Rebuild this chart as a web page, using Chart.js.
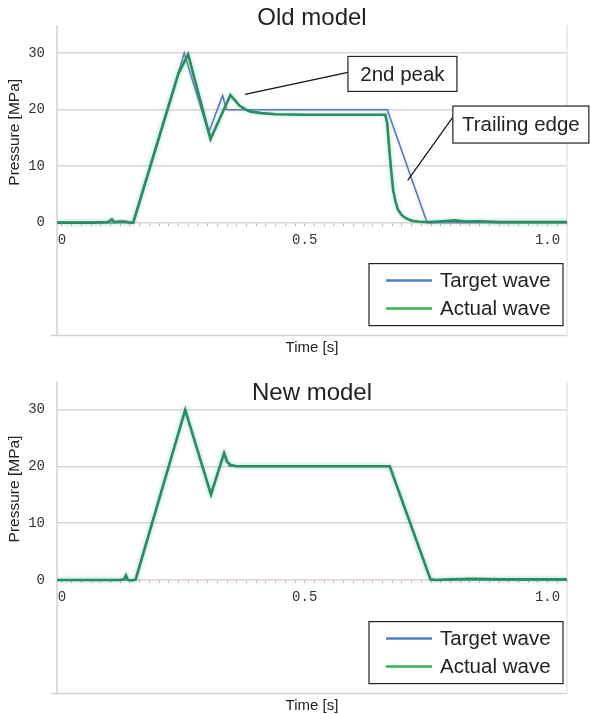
<!DOCTYPE html>
<html><head><meta charset="utf-8">
<script src="https://cdn.jsdelivr.net/npm/chart.js@4.4.1/dist/chart.umd.min.js"></script>
<style>
html,body{margin:0;padding:0;background:#fff;}
.panel{position:relative;width:590px;}
canvas{display:block;}
</style></head><body>
<div class="panel"><canvas id="c1" width="590" height="356"></canvas></div>
<div class="panel"><canvas id="c2" width="590" height="358"></canvas></div>
<script>
// ---- data (time in s, pressure in MPa) ----
const seriesLabels = ['Target wave', 'Actual wave'];
const chartTitles = ['Old model', 'New model'];

const oldTargetT = [-0.01, 0.146, 0.252, 0.302, 0.331, 0.339, 0.670, 0.752, 1.04];
const oldTargetP = [0, 0, 30, 15.9, 22.5, 20, 20, 0, 0];

const oldActualT = [-0.01, 0.06, 0.095, 0.103, 0.108, 0.12, 0.13, 0.142, 0.147, 0.240, 0.260, 0.306, 0.347, 0.357, 0.366, 0.377, 0.387, 0.41, 0.44, 0.5, 0.666, 0.670, 0.672, 0.677, 0.682, 0.687, 0.692, 0.700, 0.710, 0.722, 0.737, 0.76, 0.79, 0.81, 0.83, 0.86, 0.9, 1.04];
const oldActualP = [0, 0, 0.1, 0.6, 0.1, 0.2, 0.2, 0, 0, 26.4, 29.8, 14.8, 22.6, 21.6, 20.7, 20.1, 19.7, 19.4, 19.2, 19.1, 19.1, 17.5, 15.2, 10.2, 5.8, 3.7, 2.3, 1.3, 0.7, 0.3, 0.15, 0.1, 0.3, 0.4, 0.2, 0.25, 0.1, 0.1];

const newTargetT = [-0.01, 0.151, 0.254, 0.307, 0.334, 0.345, 0.675, 0.759, 1.04];
const newTargetP = [0, 0, 30, 15.2, 22.4, 20, 20, 0, 0];

const newActualT = [-0.01, 0.12, 0.128, 0.132, 0.136, 0.145, 0.152, 0.254, 0.307, 0.334, 0.340, 0.348, 0.36, 0.675, 0.759, 0.77, 0.8, 0.85, 0.9, 1.04];
const newActualP = [0, 0, 0.1, 0.8, 0, -0.1, 0.1, 29.9, 15.0, 22.3, 20.8, 20.2, 20.0, 20.0, 0.1, 0, 0.1, 0.2, 0.1, 0.1];

const xMin = -0.01, xMax = 1.04, xStep = 0.02;
const xLabelValues = [0, 0.5, 1.0];
const xLabelTexts = ['0', '0.5', '1.0'];
const yMin = -20, yMax = 35;
const yTickValues = [0, 10, 20, 30];

// callouts (old model only): tip and box anchor in data units
const callouts = [
  {text: '2nd peak', tipT: 0.377, tipP: 22.7, anchorT: 0.589, anchorP: 26.6, w: 109, h: 35, dy: 16},
  {text: 'Trailing edge', tipT: 0.712, tipP: 7.5, anchorT: 0.805, anchorP: 18.7, w: 136, h: 37, dy: 11}
];

const zip = (t, p) => t.map((v, i) => ({x: v, y: p[i]}));

const plotColors = ['#5878b0', '#2b8c5c'];
const legendColors = ['#4f80c0', '#35b24e'];

const glow = {
  id: 'glow',
  beforeDatasetDraw(chart, args) {
    const ctx = chart.ctx; ctx.save();
    ctx.shadowColor = args.index === 1 ? 'rgba(120,205,195,0.6)' : 'rgba(140,170,220,0.4)';
    ctx.shadowBlur = 4;
  },
  afterDatasetDraw(chart) { chart.ctx.restore(); }
};

const decor = {
  id: 'decor',
  beforeDatasetsDraw(chart) {
    const ctx = chart.ctx, a = chart.chartArea;
    ctx.save();
    ctx.strokeStyle = '#d8d0cd'; ctx.lineWidth = 1.5;
    ctx.beginPath();
    ctx.moveTo(a.left, a.top); ctx.lineTo(a.left, a.bottom);
    ctx.moveTo(a.left - 6, a.bottom); ctx.lineTo(a.right, a.bottom);
    ctx.stroke();
    ctx.strokeStyle = '#e2dedd'; ctx.lineWidth = 1.2;
    ctx.beginPath(); ctx.moveTo(a.right, a.top); ctx.lineTo(a.right, a.bottom); ctx.stroke();
    ctx.restore();
  },
  afterDraw(chart, args, o) {
    const ctx = chart.ctx, a = chart.chartArea, xs = chart.scales.x, ys = chart.scales.y;
    ctx.save();
    ctx.fillStyle = '#222';
    ctx.font = '24px "Liberation Sans", Arial, sans-serif';
    ctx.textAlign = 'center'; ctx.textBaseline = 'middle';
    ctx.fillText(o.title, (a.left + a.right) / 2, o.titleY);
    ctx.save();
    ctx.translate(15, ys.getPixelForValue(16));
    ctx.rotate(-Math.PI / 2);
    ctx.font = '15.5px "Liberation Sans", Arial, sans-serif';
    ctx.fillText('Pressure [MPa]', 0, 0);
    ctx.restore();
    ctx.font = '15px "Liberation Sans", Arial, sans-serif';
    ctx.fillText('Time [s]', (a.left + a.right) / 2, a.bottom + 12);
    const lw = 194, lh = 62, lr = a.right - 4, lb = a.bottom - 10;
    const lx = lr - lw, ly = lb - lh;
    ctx.fillStyle = '#fff'; ctx.fillRect(lx, ly, lw, lh);
    ctx.strokeStyle = '#222'; ctx.lineWidth = 1.2; ctx.strokeRect(lx, ly, lw, lh);
    ctx.font = '20.5px "Liberation Sans", Arial, sans-serif';
    ctx.textAlign = 'left';
    chart.data.datasets.forEach((ds, i) => {
      const yy = ly + 17 + i * 28;
      ctx.strokeStyle = legendColors[i]; ctx.lineWidth = 2.5;
      ctx.beginPath(); ctx.moveTo(lx + 17, yy); ctx.lineTo(lx + 63, yy); ctx.stroke();
      ctx.fillStyle = '#222';
      ctx.fillText(ds.label, lx + 71, yy + 1);
    });
    (o.callouts || []).forEach(c => {
      const tx = xs.getPixelForValue(c.tipT), ty = ys.getPixelForValue(c.tipP);
      const ax = xs.getPixelForValue(c.anchorT), ay = ys.getPixelForValue(c.anchorP);
      ctx.strokeStyle = '#111'; ctx.lineWidth = 1.2;
      ctx.beginPath(); ctx.moveTo(tx, ty); ctx.lineTo(ax, ay); ctx.stroke();
      const bx = ax, by = ay - c.dy;
      ctx.fillStyle = '#fff'; ctx.fillRect(bx, by, c.w, c.h);
      ctx.strokeStyle = '#222'; ctx.strokeRect(bx, by, c.w, c.h);
      ctx.fillStyle = '#222'; ctx.textAlign = 'center';
      ctx.font = '20.5px "Liberation Sans", Arial, sans-serif';
      ctx.fillText(c.text, bx + c.w / 2, by + c.h / 2 + 1);
    });
    ctx.restore();
  }
};

function makeChart(id, target, actual, title, titleY, padBottom, withCallouts) {
  return new Chart(document.getElementById(id), {
    type: 'line',
    data: {
      datasets: [
        {label: seriesLabels[0], data: target, borderColor: plotColors[0], borderWidth: 1.6, pointRadius: 0, tension: 0, order: 1},
        {label: seriesLabels[1], data: actual, borderColor: plotColors[1], borderWidth: 2.6, pointRadius: 0, tension: 0, order: 0}
      ]
    },
    options: {
      responsive: false, animation: false,
      layout: {padding: {left: 0, right: 23, top: 25, bottom: padBottom}},
      scales: {
        x: {
          type: 'linear', min: xMin, max: xMax, position: {y: 0},
          border: {display: false},
          grid: {drawOnChartArea: false, drawTicks: true, tickLength: 3, color: 'rgba(215,150,150,0.85)', lineWidth: 1},
          ticks: {
            stepSize: xStep, autoSkip: false, includeBounds: false, maxRotation: 0, padding: 6,
            color: '#333', font: {family: '"Liberation Mono", "DejaVu Sans Mono", monospace', size: 14},
            callback: v => { const i = xLabelValues.findIndex(l => Math.abs(l - v) < 1e-6); return i < 0 ? '' : xLabelTexts[i]; }
          }
        },
        y: {
          type: 'linear', min: yMin, max: yMax, position: 'left',
          afterFit(s) { s.width = 57; },
          afterBuildTicks(s) { s.ticks = yTickValues.map(v => ({value: v})); },
          border: {display: false},
          grid: {drawTicks: false, color: '#dcd5d2', lineWidth: 1.5},
          ticks: {padding: 12, color: '#333', font: {family: '"Liberation Mono", "DejaVu Sans Mono", monospace', size: 14}}
        }
      },
      plugins: {
        legend: {display: false}, tooltip: {enabled: false},
        decor: {title: title, titleY: titleY, callouts: withCallouts ? callouts : []}
      }
    },
    plugins: [glow, decor]
  });
}

makeChart('c1', zip(oldTargetT, oldTargetP), zip(oldActualT, oldActualP), chartTitles[0], 18, 18, true);
makeChart('c2', zip(newTargetT, newTargetP), zip(newActualT, newActualP), chartTitles[1], 37, 20, false);
</script>
</body></html>
